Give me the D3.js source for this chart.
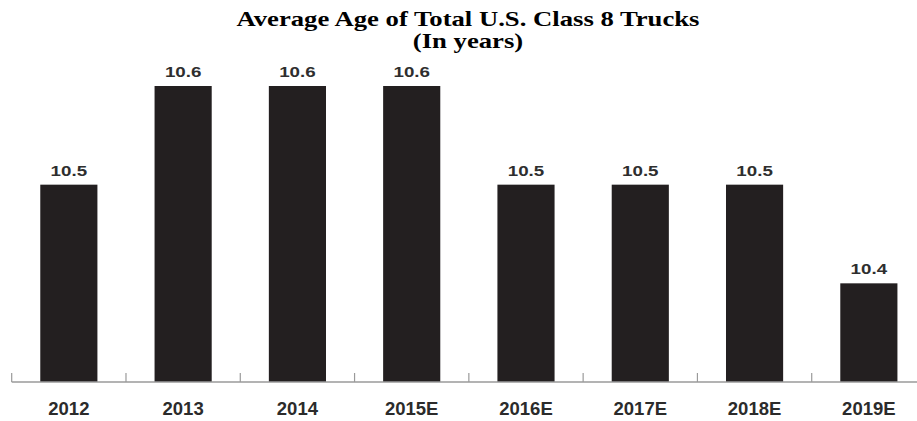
<!DOCTYPE html>
<html>
<head>
<meta charset="utf-8">
<script src="https://cdn.jsdelivr.net/npm/d3@7"></script>
<style>
  html, body { margin: 0; padding: 0; background: #fff; }
  svg { display: block; }
</style>
</head>
<body>
<script>
const categories = ["2012", "2013", "2014", "2015E", "2016E", "2017E", "2018E", "2019E"];
const values = [10.5, 10.6, 10.6, 10.6, 10.5, 10.5, 10.5, 10.4];
const titleLines = ["Average Age of Total U.S. Class 8 Trucks", "(In years)"];

const W = 917, H = 421;
const svg = d3.select("body").append("svg").attr("width", W).attr("height", H);

const x = d3.scaleBand().domain(categories).range([11.7, 926]).paddingInner(0.5).paddingOuter(0.25);
const y = d3.scaleLinear().domain([10.3, 10.6]).range([382, 86]);

// title
svg.append("g").selectAll("text").data(titleLines).join("text")
  .attr("transform", (d, i) => `translate(468,${26 + i * 22}) scale(1.27,1)`)
  .attr("text-anchor", "middle")
  .attr("font-family", "'Liberation Serif', 'Times New Roman', serif")
  .attr("font-weight", "bold").attr("font-size", 21).attr("fill", "#000")
  .text(d => d);

// bars
svg.append("g").selectAll("rect").data(values).join("rect")
  .attr("x", (d, i) => x(categories[i]))
  .attr("y", d => y(d))
  .attr("width", x.bandwidth())
  .attr("height", d => y(10.3) - y(d))
  .attr("fill", "#231f20");

// value labels
svg.append("g").selectAll("text").data(values).join("text")
  .attr("transform", (d, i) => `translate(${x(categories[i]) + x.bandwidth() / 2},${y(d) - 9}) scale(1.25,1)`)
  .attr("text-anchor", "middle")
  .attr("font-family", "'Liberation Sans', Arial, sans-serif")
  .attr("font-weight", "bold").attr("font-size", 15).attr("fill", "#2e2e2e")
  .text(d => d.toFixed(1));

// axis
const step = x.step();
const gap = step - x.bandwidth();
const axisG = svg.append("g");
axisG.append("line")
  .attr("x1", x.range()[0]).attr("x2", W)
  .attr("y1", y(10.3)).attr("y2", y(10.3))
  .attr("stroke", "#9a9a9a").attr("stroke-width", 1.5);
axisG.selectAll("line.tick").data(categories).join("line")
  .attr("class", "tick")
  .attr("x1", d => x(d) - gap / 2).attr("x2", d => x(d) - gap / 2)
  .attr("y1", y(10.3)).attr("y2", y(10.3) - 9)
  .attr("stroke", "#9a9a9a").attr("stroke-width", 1.2);

// category labels
svg.append("g").selectAll("text").data(categories).join("text")
  .attr("x", d => x(d) + x.bandwidth() / 2)
  .attr("y", 415)
  .attr("text-anchor", "middle")
  .attr("font-family", "'Liberation Sans', Arial, sans-serif")
  .attr("font-weight", "bold").attr("font-size", 18.5).attr("fill", "#2b2b2b")
  .text(d => d);
</script>
</body>
</html>
